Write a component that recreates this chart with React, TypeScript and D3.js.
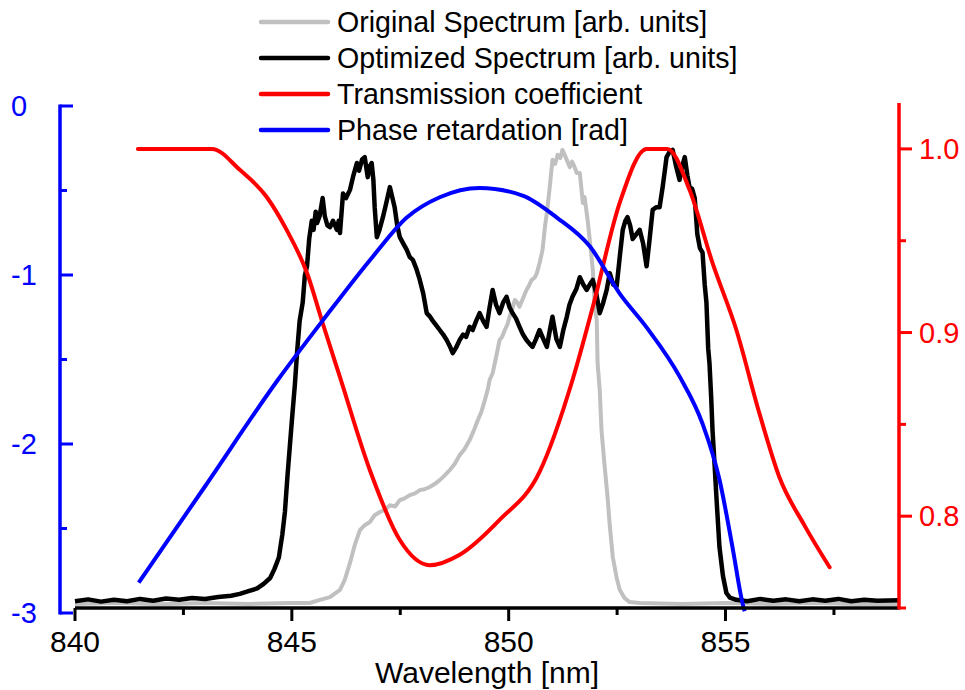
import React from "react";
import * as d3 from "d3";

// ---------- data ----------
const xTicks = [840, 845, 850, 855];
const xMinorTicks = [842.5, 847.5, 852.5, 857.5];
const phaseTicks = [0, -1, -2, -3];
const phaseMinorTicks = [-0.5, -1.5, -2.5];
const transTicks = [1.0, 0.9, 0.8];
const transMinorTicks = [0.95, 0.85, 0.75];

const legendLabels = [
  "Original Spectrum [arb. units]",
  "Optimized Spectrum [arb. units]",
  "Transmission coefficient",
  "Phase retardation [rad]",
];
const legendColors = ["#c0c0c0", "#000000", "#ff0000", "#0000ff"];

// Original spectrum [nm, arb]
const originalSpectrum: [number, number][] = [
  [840.0, -0.002], [841.0, 0.0], [842.0, -0.003], [843.0, 0.0], [844.0, -0.002],
  [845.0, 0.0], [845.41, 0.0], [845.65, 0.007], [845.88, 0.013], [846.11, 0.029],
  [846.22, 0.051], [846.34, 0.088], [846.45, 0.127], [846.57, 0.16], [846.68, 0.171],
  [846.8, 0.178], [846.91, 0.193], [847.03, 0.2], [847.15, 0.205], [847.26, 0.215],
  [847.38, 0.212], [847.49, 0.226], [847.6, 0.23], [847.72, 0.237], [847.84, 0.241],
  [847.95, 0.248], [848.06, 0.25], [848.18, 0.255], [848.3, 0.262], [848.41, 0.27],
  [848.52, 0.28], [848.64, 0.292], [848.75, 0.305], [848.87, 0.325], [848.98, 0.338],
  [849.1, 0.358], [849.2, 0.38], [849.29, 0.402], [849.37, 0.42], [849.45, 0.446],
  [849.52, 0.47], [849.56, 0.49], [849.63, 0.505], [849.72, 0.545], [849.79, 0.578],
  [849.85, 0.585], [849.91, 0.6], [849.97, 0.612], [850.02, 0.629], [850.08, 0.645],
  [850.14, 0.666], [850.2, 0.66], [850.25, 0.651], [850.33, 0.67], [850.41, 0.688],
  [850.47, 0.698], [850.53, 0.71], [850.6, 0.715], [850.65, 0.725], [850.72, 0.75],
  [850.78, 0.776], [850.84, 0.83], [850.88, 0.857], [850.94, 0.908], [851.01, 0.974],
  [851.07, 0.965], [851.13, 0.985], [851.19, 0.978], [851.24, 0.996], [851.29, 0.985],
  [851.34, 0.974], [851.41, 0.958], [851.46, 0.97], [851.5, 0.963], [851.57, 0.945],
  [851.64, 0.945], [851.71, 0.879], [851.75, 0.892], [851.82, 0.842], [851.87, 0.798],
  [851.94, 0.732], [851.98, 0.659], [852.03, 0.622], [852.05, 0.527], [852.1, 0.468],
  [852.14, 0.38], [852.21, 0.303], [852.28, 0.233], [852.33, 0.171], [852.4, 0.101],
  [852.49, 0.055], [852.56, 0.029], [852.67, 0.011], [852.79, 0.002], [853.02, 0.0],
  [854.0, -0.002], [855.0, 0.0], [856.0, -0.002], [857.0, 0.0], [858.0, -0.002], [859.0, -0.002],
];

// Optimized spectrum [nm, arb]
const optimizedSpectrum: [number, number][] = [
  [840.0, 0.004], [840.3, 0.008], [840.6, 0.003], [840.9, 0.007], [841.2, 0.004],
  [841.5, 0.009], [841.8, 0.005], [842.1, 0.01], [842.4, 0.007], [842.7, 0.011],
  [843.0, 0.009], [843.3, 0.013], [843.6, 0.016], [843.8, 0.02], [844.0, 0.026],
  [844.2, 0.032], [844.35, 0.042], [844.5, 0.055], [844.6, 0.075], [844.7, 0.1],
  [844.78, 0.15], [844.84, 0.2], [844.9, 0.28], [844.95, 0.34], [845.0, 0.4],
  [845.07, 0.48], [845.12, 0.55], [845.18, 0.62], [845.25, 0.66], [845.3, 0.72],
  [845.35, 0.74], [845.4, 0.8], [845.46, 0.84], [845.5, 0.82], [845.55, 0.86],
  [845.58, 0.835], [845.64, 0.85], [845.71, 0.89], [845.76, 0.85], [845.82, 0.83],
  [845.88, 0.826], [845.95, 0.84], [846.04, 0.82], [846.08, 0.84], [846.11, 0.813],
  [846.18, 0.9], [846.25, 0.89], [846.34, 0.908], [846.42, 0.94], [846.5, 0.967],
  [846.55, 0.95], [846.62, 0.975], [846.68, 0.98], [846.75, 0.936], [846.8, 0.96],
  [846.84, 0.967], [846.88, 0.93], [846.91, 0.87], [846.96, 0.804], [847.02, 0.82],
  [847.1, 0.848], [847.18, 0.88], [847.26, 0.914], [847.32, 0.89], [847.37, 0.87],
  [847.43, 0.83], [847.49, 0.804], [847.57, 0.79], [847.65, 0.776], [847.72, 0.76],
  [847.79, 0.754], [847.87, 0.735], [847.95, 0.71], [848.03, 0.68], [848.11, 0.637],
  [848.18, 0.63], [848.25, 0.62], [848.33, 0.61], [848.41, 0.6], [848.49, 0.59],
  [848.57, 0.578], [848.64, 0.565], [848.71, 0.549], [848.78, 0.56], [848.87, 0.578],
  [848.95, 0.59], [849.02, 0.585], [849.1, 0.607], [849.17, 0.6], [849.25, 0.62],
  [849.33, 0.637], [849.41, 0.62], [849.49, 0.607], [849.56, 0.65], [849.63, 0.688],
  [849.71, 0.655], [849.79, 0.637], [849.87, 0.66], [849.95, 0.673], [850.02, 0.65],
  [850.09, 0.637], [850.17, 0.625], [850.25, 0.607], [850.33, 0.59], [850.41, 0.578],
  [850.48, 0.57], [850.55, 0.563], [850.63, 0.58], [850.71, 0.6], [850.8, 0.58],
  [850.88, 0.563], [850.95, 0.6], [851.01, 0.629], [851.1, 0.58], [851.18, 0.563],
  [851.26, 0.6], [851.34, 0.629], [851.4, 0.655], [851.47, 0.673], [851.56, 0.69],
  [851.64, 0.716], [851.72, 0.7], [851.8, 0.688], [851.87, 0.7], [851.94, 0.71],
  [852.02, 0.68], [852.1, 0.637], [852.18, 0.66], [852.26, 0.688], [852.33, 0.725],
  [852.41, 0.7], [852.49, 0.696], [852.56, 0.76], [852.63, 0.82], [852.69, 0.84],
  [852.74, 0.848], [852.8, 0.83], [852.86, 0.8], [852.94, 0.81], [853.02, 0.82],
  [853.1, 0.79], [853.18, 0.74], [853.25, 0.8], [853.32, 0.864], [853.4, 0.87],
  [853.48, 0.87], [853.55, 0.914], [853.6, 0.95], [853.64, 0.98], [853.7, 0.99],
  [853.78, 0.996], [853.86, 0.96], [853.94, 0.93], [854.0, 0.96], [854.06, 0.98],
  [854.12, 0.94], [854.17, 0.914], [854.23, 0.91], [854.29, 0.89], [854.35, 0.81],
  [854.41, 0.78], [854.47, 0.77], [854.52, 0.7], [854.56, 0.66], [854.6, 0.56],
  [854.63, 0.527], [854.67, 0.45], [854.7, 0.38], [854.75, 0.3], [854.79, 0.233],
  [854.83, 0.17], [854.86, 0.123], [854.94, 0.06], [855.02, 0.022], [855.1, 0.012],
  [855.25, 0.007], [855.5, 0.004], [855.8, 0.009], [856.1, 0.005], [856.4, 0.008],
  [856.7, 0.004], [857.0, 0.008], [857.3, 0.005], [857.6, 0.009], [857.9, 0.004],
  [858.2, 0.007], [858.5, 0.005], [859.0, 0.006],
];

// Transmission coefficient [nm, T]
const transmission: [number, number][] = [
  [841.45, 1.0], [843.16, 1.0], [843.8, 0.9886], [844.42, 0.9738], [844.88, 0.9559],
  [845.35, 0.9324], [845.71, 0.9052], [846.11, 0.8757], [846.8, 0.825], [847.49, 0.787],
  [848.18, 0.7733], [848.87, 0.779], [849.79, 0.798], [850.71, 0.824], [851.47, 0.874],
  [851.94, 0.914], [852.56, 0.9706], [853.18, 1.0], [853.66, 1.0], [854.17, 0.9777],
  [854.7, 0.9379], [855.25, 0.9014], [855.78, 0.8561], [856.24, 0.8213], [856.82, 0.795],
  [857.4, 0.7722],
];

// Phase retardation [nm, rad]
const phase: [number, number][] = [
  [841.47, -2.82], [843.0, -2.25], [844.68, -1.62], [845.71, -1.27], [846.87, -0.89],
  [847.65, -0.66], [848.41, -0.54], [849.33, -0.485], [850.32, -0.53], [851.11, -0.66],
  [851.87, -0.83], [852.56, -1.11], [853.18, -1.31], [853.94, -1.6], [854.47, -1.88],
  [854.86, -2.21], [855.16, -2.61], [855.39, -2.94], [855.44, -2.99],
];

// ---------- chart ----------
const FONT = "'Liberation Sans', Arial, sans-serif";

export default function App() {
  const x = d3.scaleLinear().domain([840, 859]).range([75, 899]);
  const yPhase = d3.scaleLinear().domain([-3, 0]).range([613, 106]);
  const yTrans = d3.scaleLinear().domain([0.75, 1.025]).range([608, 103]);
  const ySpec = d3.scaleLinear().domain([0, 1]).range([603, 148]);

  const specLine = d3
    .line<[number, number]>()
    .x((d) => x(d[0]))
    .y((d) => ySpec(d[1]));
  const transLine = d3
    .line<[number, number]>()
    .x((d) => x(d[0]))
    .y((d) => yTrans(d[1]))
    .curve(d3.curveMonotoneX);
  const phaseLine = d3
    .line<[number, number]>()
    .x((d) => x(d[0]))
    .y((d) => yPhase(d[1]))
    .curve(d3.curveMonotoneX);

  const [x0, x1] = x.range();
  const axisY = 608;
  const leftX = 60;
  const rightX = 899;

  return (
    <svg
      width={965}
      height={690}
      style={{ position: "absolute", left: 0, top: 0, background: "#fff" }}
      fontFamily={FONT}
    >
      {/* spectra */}
      <path d={specLine(originalSpectrum) || ""} fill="none" stroke="#c0c0c0" strokeWidth={4} strokeLinejoin="round" />
      <path d={specLine(optimizedSpectrum) || ""} fill="none" stroke="#000" strokeWidth={4.5} strokeLinejoin="round" />
      <path d={transLine(transmission) || ""} fill="none" stroke="#ff0000" strokeWidth={4} strokeLinejoin="round" strokeLinecap="round" />
      <path d={phaseLine(phase) || ""} fill="none" stroke="#0000ff" strokeWidth={4} strokeLinejoin="round" />

      {/* bottom axis */}
      <line x1={x0} x2={x1} y1={axisY} y2={axisY} stroke="#000" strokeWidth={3.5} />
      {xTicks.map((t) => (
        <g key={"xt" + t}>
          <line x1={x(t)} x2={x(t)} y1={axisY} y2={axisY + 13} stroke="#000" strokeWidth={3} />
          <text x={x(t)} y={652} textAnchor="middle" fontSize={30} fill="#000">
            {t}
          </text>
        </g>
      ))}
      {xMinorTicks.map((t) => (
        <line key={"xm" + t} x1={x(t)} x2={x(t)} y1={axisY} y2={axisY + 7} stroke="#000" strokeWidth={3} />
      ))}
      <text x={(x0 + x1) / 2} y={683} textAnchor="middle" fontSize={30} fill="#000">
        Wavelength [nm]
      </text>

      {/* left axis (phase) */}
      <line x1={leftX} x2={leftX} y1={yPhase(0) - 1.5} y2={yPhase(-3) + 1.5} stroke="#0000ff" strokeWidth={3.5} />
      {phaseTicks.map((t) => (
        <g key={"pt" + t}>
          <line x1={leftX} x2={leftX + 13} y1={yPhase(t)} y2={yPhase(t)} stroke="#0000ff" strokeWidth={3} />
          <text x={11} y={yPhase(t) + 10} textAnchor="start" fontSize={29} fill="#0000ff">
            {String(t)}
          </text>
        </g>
      ))}
      {phaseMinorTicks.map((t) => (
        <line key={"pm" + t} x1={leftX} x2={leftX + 7} y1={yPhase(t)} y2={yPhase(t)} stroke="#0000ff" strokeWidth={3} />
      ))}

      {/* right axis (transmission) */}
      <line x1={rightX} x2={rightX} y1={yTrans.range()[1]} y2={yTrans.range()[0] + 1.5} stroke="#ff0000" strokeWidth={3.5} />
      {transTicks.map((t) => (
        <g key={"tt" + t}>
          <line x1={rightX} x2={rightX + 13} y1={yTrans(t)} y2={yTrans(t)} stroke="#ff0000" strokeWidth={3} />
          <text x={919} y={yTrans(t) + 10} textAnchor="start" fontSize={29} fill="#ff0000">
            {t.toFixed(1)}
          </text>
        </g>
      ))}
      {transMinorTicks.map((t) => (
        <line key={"tm" + t} x1={rightX} x2={rightX + 7} y1={yTrans(t)} y2={yTrans(t)} stroke="#ff0000" strokeWidth={3} />
      ))}

      {/* legend */}
      {legendLabels.map((label, i) => {
        const ly = 22 + i * 36;
        return (
          <g key={label}>
            <line x1={261} x2={328} y1={ly} y2={ly} stroke={legendColors[i]} strokeWidth={4.5} strokeLinecap="round" />
            <text x={337} y={ly + 10} fontSize={28.6} fill="#000">
              {label}
            </text>
          </g>
        );
      })}
    </svg>
  );
}
